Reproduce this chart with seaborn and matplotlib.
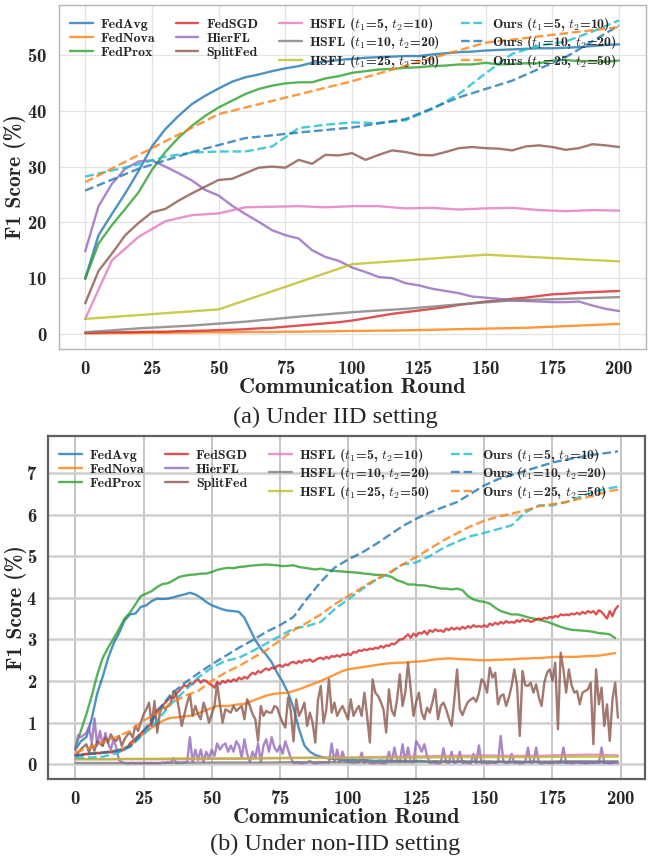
import matplotlib
matplotlib.use("Agg")
import matplotlib.pyplot as plt
import seaborn as sns

# ---------------- (a) IID setting ----------------
iid_x5 = list(range(0, 201, 5))
iid_x10 = list(range(0, 201, 10))
iid_x20 = list(range(0, 201, 20))
iid_x50 = list(range(0, 201, 50))

iid_fedavg = [9.9, 17.7, 21.5, 25.2, 29.2, 33.6, 36.7, 39.1, 41.2, 42.7, 44.0, 45.2, 46.0, 46.5,
              47.1, 47.6, 48.0, 48.6, 48.8, 49.1, 49.3, 49.5, 49.6, 49.7, 49.8, 49.8, 50.1, 50.3,
              50.5, 50.6, 50.8, 50.9, 51.0, 51.1, 51.2, 51.2, 51.3, 51.4, 51.6, 51.8, 51.9]
iid_fednova = [0.1, 0.1, 0.15, 0.15, 0.2, 0.2, 0.2, 0.25, 0.25, 0.3, 0.3, 0.3, 0.35, 0.35, 0.35,
               0.4, 0.4, 0.45, 0.45, 0.5, 0.55, 0.55, 0.6, 0.6, 0.65, 0.7, 0.75, 0.8, 0.85, 0.9,
               0.95, 1.0, 1.05, 1.1, 1.2, 1.3, 1.4, 1.5, 1.6, 1.7, 1.8]
iid_fedprox = [9.9, 16.2, 19.5, 22.4, 25.4, 29.4, 32.6, 35.2, 37.3, 39.1, 40.6, 41.8, 43.0, 43.9,
               44.5, 44.9, 45.1, 45.1, 45.8, 46.2, 46.8, 47.1, 47.4, 47.5, 47.7, 47.8, 48.0, 48.1,
               48.3, 48.3, 48.6, 48.3, 48.4, 48.5, 48.5, 49.0, 49.1, 48.9, 48.9, 48.8, 49.0]
iid_fedsgd = [0.2, 0.25, 0.3, 0.3, 0.35, 0.4, 0.4, 0.5, 0.55, 0.6, 0.7, 0.75, 0.85, 1.0, 1.1, 1.3,
              1.5, 1.7, 1.9, 2.1, 2.4, 2.8, 3.2, 3.6, 3.9, 4.2, 4.5, 4.8, 5.2, 5.5, 5.8, 6.0, 6.3,
              6.5, 6.8, 7.1, 7.2, 7.4, 7.5, 7.6, 7.7]
iid_hierfl = [14.8, 22.9, 26.9, 29.6, 30.9, 31.1, 30.0, 28.8, 27.5, 25.8, 24.8, 23.0, 21.5, 20.1,
              18.6, 17.7, 17.1, 15.0, 13.8, 13.1, 11.9, 11.1, 10.2, 10.0, 9.1, 8.7, 8.1, 7.7, 7.3,
              6.7, 6.5, 6.3, 6.0, 5.9, 5.8, 5.7, 5.7, 5.8, 5.1, 4.5, 4.1]
iid_splitfed = [5.5, 11.3, 14.4, 17.7, 19.9, 21.8, 22.4, 23.9, 25.2, 26.4, 27.6, 27.8, 28.8, 29.8,
                30.0, 29.8, 31.2, 30.5, 32.1, 32.0, 32.4, 31.2, 32.1, 32.9, 32.6, 32.1, 32.0, 32.6,
                33.3, 33.5, 33.3, 33.2, 32.9, 33.6, 33.8, 33.5, 33.0, 33.3, 34.0, 33.8, 33.5]
iid_hsfl_5_10 = [2.7, 13.2, 17.4, 20.2, 21.3, 21.6, 22.7, 22.8, 22.9, 22.7, 22.9, 22.9, 22.5, 22.6,
                 22.3, 22.5, 22.6, 22.2, 22.0, 22.2, 22.1]
iid_hsfl_10_20 = [0.3, 1.0, 1.5, 2.2, 3.1, 3.9, 4.5, 5.3, 6.0, 6.3, 6.6]
iid_hsfl_25_50 = [2.7, 4.4, 12.5, 14.2, 13.0]
iid_ours_5_10 = [28.2, 29.3, 30.4, 31.8, 32.5, 32.7, 32.7, 33.6, 36.9, 37.5, 37.9, 37.8, 38.3, 40.3,
                 43.0, 46.7, 50.2, 51.7, 52.4, 54.2, 56.2]
iid_ours_10_20 = [25.7, 29.6, 32.6, 35.1, 36.1, 37.0, 38.5, 42.4, 45.4, 49.6, 55.3]
iid_ours_25_50 = [27.2, 39.4, 45.3, 52.2, 55.0]

# ---------------- (b) non-IID setting ----------------
niid_x1 = list(range(0, 200))
niid_x2 = list(range(0, 200, 2))
niid_x5 = list(range(0, 200, 5)) + [199]
niid_x10 = list(range(0, 200, 10)) + [199]

niid_fedavg = [0.35, 0.55, 0.65, 1.1, 1.7, 2.1, 2.55, 2.9, 3.15, 3.45,
               3.6, 3.62, 3.78, 3.82, 3.92, 3.98, 3.97, 3.98, 4.01, 4.05,
               4.08, 4.12, 4.08, 4.0, 3.9, 3.82, 3.77, 3.72, 3.69, 3.68,
               3.66, 3.52, 3.25, 2.98, 2.78, 2.63, 2.45, 2.2, 1.98, 1.72,
               1.35, 0.85, 0.45, 0.3, 0.22, 0.18, 0.15, 0.13, 0.12, 0.1,
               0.1, 0.1, 0.09, 0.1, 0.09, 0.08, 0.09, 0.08, 0.08, 0.07,
               0.08, 0.07, 0.07, 0.08, 0.07, 0.06, 0.07, 0.06, 0.07, 0.06,
               0.06, 0.07, 0.06, 0.06, 0.05, 0.06, 0.06, 0.05, 0.06, 0.05,
               0.05, 0.06, 0.05, 0.05, 0.06, 0.05, 0.05, 0.04, 0.05, 0.05,
               0.04, 0.05, 0.05, 0.04, 0.05, 0.04, 0.05, 0.04, 0.04, 0.05]
niid_fednova = [0.2, 0.22, 0.24, 0.25, 0.27, 0.28, 0.3, 0.32, 0.35, 0.4,
                0.44, 0.55, 0.68, 0.78, 0.88, 0.96, 1.04, 1.1, 1.12, 1.13,
                1.15, 1.16, 1.2, 1.25, 1.3, 1.35, 1.4, 1.4, 1.4, 1.42,
                1.44, 1.45, 1.5, 1.55, 1.6, 1.65, 1.68, 1.7, 1.71, 1.72,
                1.76, 1.8, 1.85, 1.9, 1.95, 2.0, 2.06, 2.12, 2.18, 2.24,
                2.28, 2.3, 2.32, 2.34, 2.36, 2.38, 2.4, 2.42, 2.43, 2.44,
                2.44, 2.45, 2.46, 2.47, 2.48, 2.5, 2.52, 2.53, 2.54, 2.54,
                2.53, 2.52, 2.52, 2.51, 2.5, 2.5, 2.5, 2.51, 2.51, 2.52,
                2.52, 2.53, 2.54, 2.54, 2.55, 2.55, 2.56, 2.57, 2.58, 2.58,
                2.58, 2.58, 2.58, 2.59, 2.6, 2.6, 2.61, 2.63, 2.65, 2.67]
niid_fedprox = [0.4, 0.8, 1.2, 1.64, 2.15, 2.55, 2.8, 3.02, 3.25, 3.5,
                3.64, 3.84, 4.04, 4.1, 4.16, 4.26, 4.33, 4.35, 4.42, 4.5,
                4.53, 4.55, 4.56, 4.58, 4.58, 4.62, 4.67, 4.7, 4.72, 4.71,
                4.74, 4.75, 4.77, 4.78, 4.79, 4.8, 4.79, 4.78, 4.76, 4.77,
                4.78, 4.74, 4.72, 4.7, 4.68, 4.7, 4.67, 4.65, 4.64, 4.63,
                4.62, 4.61, 4.6, 4.58, 4.57, 4.55, 4.55, 4.54, 4.5, 4.42,
                4.38, 4.32, 4.32, 4.3, 4.3, 4.27, 4.25, 4.22, 4.22, 4.2,
                4.22, 4.18, 4.04, 3.96, 3.92, 3.9, 3.86, 3.76, 3.68, 3.64,
                3.6, 3.6, 3.57, 3.53, 3.5, 3.47, 3.44, 3.4, 3.35, 3.3,
                3.26, 3.23, 3.22, 3.21, 3.2, 3.18, 3.15, 3.14, 3.12, 3.03]
niid_fedsgd = [0.22, 0.23, 0.22, 0.24, 0.25, 0.24, 0.26, 0.25, 0.27, 0.26,
               0.28, 0.27, 0.29, 0.28, 0.3, 0.31, 0.3, 0.33, 0.35, 0.4,
               0.5, 0.56, 0.62, 0.68, 0.74, 0.8, 0.86, 0.92, 1.0, 1.15,
               1.3, 1.36, 1.42, 1.48, 1.55, 1.62, 1.58, 1.7, 1.76, 1.84,
               1.9, 1.86, 1.95, 1.92, 2.0, 2.04, 1.96, 2.02, 2.0, 1.94,
               1.9, 1.84, 1.98, 1.92, 2.0, 1.96, 2.02, 1.98, 2.04, 2.0,
               2.08, 2.04, 2.1, 2.06, 2.14, 2.2, 2.16, 2.24, 2.2, 2.26,
               2.3, 2.26, 2.32, 2.3, 2.36, 2.38, 2.34, 2.4, 2.38, 2.44,
               2.46, 2.42, 2.48, 2.44, 2.5, 2.48, 2.52, 2.46, 2.5, 2.54,
               2.56, 2.52, 2.58, 2.54, 2.6, 2.58, 2.62, 2.58, 2.64, 2.62,
               2.66, 2.62, 2.7, 2.68, 2.74, 2.72, 2.76, 2.74, 2.78, 2.76,
               2.8, 2.78, 2.84, 2.8, 2.86, 2.84, 2.9, 2.88, 2.94, 3.0,
               3.0, 3.06, 3.12, 3.04, 3.14, 3.08, 3.16, 3.14, 3.2, 3.12,
               3.22, 3.18, 3.24, 3.2, 3.22, 3.18, 3.26, 3.22, 3.28, 3.24,
               3.28, 3.24, 3.3, 3.26, 3.32, 3.28, 3.34, 3.3, 3.32, 3.3,
               3.34, 3.3, 3.38, 3.34, 3.4, 3.36, 3.42, 3.38, 3.44, 3.4,
               3.42, 3.4, 3.46, 3.42, 3.48, 3.44, 3.46, 3.42, 3.44, 3.48,
               3.5, 3.48, 3.52, 3.5, 3.54, 3.52, 3.56, 3.54, 3.6, 3.58,
               3.6, 3.58, 3.62, 3.6, 3.64, 3.6, 3.66, 3.62, 3.68, 3.64,
               3.68, 3.6, 3.7, 3.66, 3.58, 3.5, 3.68, 3.56, 3.72, 3.8]
niid_hierfl = [0.35, 0.7, 0.65, 0.7, 0.75, 0.9, 0.5, 1.1, 0.45, 0.8,
               0.45, 0.75, 0.5, 0.35, 0.6, 0.4, 0.1, 0.05, 0.03, 0.02,
               0.02, 0.03, 0.02, 0.03, 0.02, 0.02, 0.03, 0.02, 0.03, 0.02,
               0.03, 0.02, 0.04, 0.03, 0.05, 0.03, 0.15, 0.03, 0.04, 0.03,
               0.04, 0.05, 0.65, 0.05, 0.35, 0.1, 0.35, 0.05, 0.3, 0.15,
               0.35, 0.2, 0.5, 0.35, 0.45, 0.5, 0.3, 0.45, 0.3, 0.55,
               0.45, 0.15, 0.6, 0.25, 0.05, 0.3, 0.15, 0.5, 0.05, 0.45,
               0.6, 0.3, 0.65, 0.4, 0.3, 0.45, 0.25, 0.55, 0.35, 0.15,
               0.03, 0.04, 0.03, 0.02, 0.03, 0.04, 0.08, 0.03, 0.02, 0.03,
               0.04, 0.03, 0.05, 0.03, 0.5, 0.05, 0.35, 0.05, 0.3, 0.08,
               0.05, 0.05, 0.03, 0.05, 0.04, 0.28, 0.03, 0.08, 0.03, 0.02,
               0.03, 0.04, 0.03, 0.02, 0.03, 0.3, 0.05, 0.4, 0.1, 0.05,
               0.48, 0.05, 0.4, 0.05, 0.05, 0.55, 0.45, 0.3, 0.48, 0.2,
               0.03, 0.04, 0.03, 0.02, 0.03, 0.38, 0.05, 0.03, 0.3, 0.03,
               0.05, 0.3, 0.03, 0.04, 0.03, 0.02, 0.25, 0.03, 0.45, 0.03,
               0.04, 0.02, 0.03, 0.04, 0.03, 0.05, 0.68, 0.05, 0.03, 0.04,
               0.25, 0.03, 0.04, 0.02, 0.03, 0.05, 0.4, 0.03, 0.04, 0.4,
               0.03, 0.02, 0.03, 0.04, 0.03, 0.02, 0.05, 0.03, 0.04, 0.4,
               0.03, 0.04, 0.02, 0.03, 0.05, 0.03, 0.04, 0.02, 0.03, 0.04,
               0.03, 0.05, 0.03, 0.4, 0.03, 0.04, 0.02, 0.03, 0.04, 0.03]
niid_splitfed = [0.2, 0.28, 0.36, 0.42, 0.48, 0.28, 0.48, 0.32, 0.56, 0.5,
                 0.44, 0.64, 0.52, 0.72, 0.6, 0.56, 0.68, 0.44, 0.6, 0.7,
                 0.76, 0.64, 0.92, 0.8, 1.0, 1.2, 1.32, 1.48, 0.92, 1.52,
                 0.76, 1.24, 1.4, 1.32, 1.4, 1.48, 1.76, 1.68, 1.32, 0.92,
                 1.2, 1.48, 1.68, 1.16, 1.4, 1.2, 1.08, 1.48, 1.28, 1.0,
                 1.2, 1.4, 1.95, 1.44, 1.0, 1.32, 1.28, 1.24, 1.4, 1.28,
                 1.34, 1.4, 1.08, 1.56, 1.4, 1.2, 1.08, 0.56, 1.4, 1.16,
                 1.28, 1.24, 1.24, 1.4, 1.36, 1.16, 1.0, 0.88, 1.6, 1.28,
                 0.55, 1.56, 1.16, 1.3, 1.48, 0.92, 1.24, 1.0, 0.52, 1.56,
                 1.88, 1.0, 1.3, 2.04, 1.24, 1.48, 1.16, 1.3, 1.4, 1.24,
                 1.08, 1.56, 1.16, 1.3, 1.4, 1.16, 1.72, 1.16, 0.52, 2.04,
                 1.72, 1.64, 1.5, 1.32, 0.76, 1.8, 1.3, 1.16, 1.56, 2.16,
                 1.4, 1.72, 2.44, 1.8, 1.16, 1.5, 1.72, 1.24, 1.08, 1.36,
                 1.24, 1.5, 1.8, 1.08, 1.4, 1.48, 1.32, 1.1, 0.92, 1.56,
                 2.28, 1.32, 1.18, 1.36, 1.5, 1.55, 1.6, 1.5, 1.7, 2.04,
                 1.96, 1.72, 2.32, 2.08, 2.2, 1.44, 1.64, 1.68, 1.4, 1.6,
                 1.88, 2.28, 1.88, 0.68, 2.24, 1.9, 1.88, 1.96, 1.72, 1.92,
                 1.6, 1.4, 1.96, 2.2, 2.28, 2.0, 2.44, 0.84, 2.68, 2.28,
                 1.72, 2.28, 1.9, 1.72, 1.76, 1.44, 1.72, 1.76, 1.8, 1.96,
                 0.48, 2.28, 1.44, 1.84, 0.92, 1.44, 0.56, 1.56, 1.96, 1.12]
niid_hsfl_5_10 = [0.12, 0.12, 0.12, 0.12, 0.12, 0.13, 0.13, 0.14, 0.15, 0.16, 0.16,
                  0.17, 0.18, 0.19, 0.2, 0.21, 0.2, 0.2, 0.22, 0.23, 0.21]
niid_hsfl_10_20 = [0.03, 0.03, 0.03, 0.03, 0.04, 0.04, 0.04, 0.04, 0.05, 0.05, 0.05,
                   0.05, 0.05, 0.06, 0.06, 0.06, 0.06, 0.06, 0.07, 0.07, 0.07]
niid_hsfl_25_50 = [0.12, 0.12, 0.13, 0.13, 0.14, 0.14, 0.14, 0.15, 0.15, 0.15, 0.15,
                   0.16, 0.16, 0.16, 0.17, 0.17, 0.17, 0.17, 0.18, 0.18, 0.18]
niid_ours_5_10 = [0.16, 0.16, 0.18, 0.26, 0.42, 0.72, 1.05, 1.44, 1.76, 2.08, 2.32, 2.48, 2.56,
                  2.72, 2.9, 3.08, 3.26, 3.32, 3.42, 3.72, 3.96, 4.2, 4.42, 4.58, 4.8, 4.85,
                  5.0, 5.2, 5.35, 5.48, 5.56, 5.65, 5.74, 6.05, 6.22, 6.22, 6.3, 6.42, 6.55,
                  6.62, 6.67]
niid_ours_10_20 = [0.2, 0.25, 0.28, 0.32, 0.42, 0.8, 1.25, 1.68, 1.95, 2.18, 2.4, 2.6, 2.8,
                   2.98, 3.18, 3.34, 3.54, 3.98, 4.38, 4.72, 4.92, 5.08, 5.28, 5.5, 5.72, 5.9,
                   6.05, 6.18, 6.3, 6.5, 6.7, 6.85, 6.95, 7.05, 7.15, 7.25, 7.32, 7.38, 7.44,
                   7.48, 7.52]
niid_ours_25_50 = [0.28, 0.4, 0.52, 0.65, 0.8, 1.05, 1.22, 1.46, 1.64, 1.76, 2.0, 2.2, 2.36,
                   2.55, 2.74, 2.97, 3.22, 3.4, 3.6, 3.84, 4.04, 4.24, 4.44, 4.6, 4.8, 4.98,
                   5.18, 5.38, 5.55, 5.72, 5.85, 5.95, 6.02, 6.1, 6.2, 6.25, 6.3, 6.38, 6.45,
                   6.55, 6.6]

labels = ["FedAvg", "FedNova", "FedProx", "FedSGD", "HierFL", "SplitFed",
          r"HSFL ($t_1$=5, $t_2$=10)", r"HSFL ($t_1$=10, $t_2$=20)", r"HSFL ($t_1$=25, $t_2$=50)",
          r"Ours ($t_1$=5, $t_2$=10)", r"Ours ($t_1$=10, $t_2$=20)", r"Ours ($t_1$=25, $t_2$=50)"]
colors = ["tab:blue", "tab:orange", "tab:green", "tab:red", "tab:purple", "tab:brown",
          "tab:pink", "tab:gray", "tab:olive", "tab:cyan", "tab:blue", "tab:orange"]
styles = ["-"] * 9 + ["--"] * 3

iid_series = [(iid_x5, iid_fedavg), (iid_x5, iid_fednova), (iid_x5, iid_fedprox),
              (iid_x5, iid_fedsgd), (iid_x5, iid_hierfl), (iid_x5, iid_splitfed),
              (iid_x10, iid_hsfl_5_10), (iid_x20, iid_hsfl_10_20), (iid_x50, iid_hsfl_25_50),
              (iid_x10, iid_ours_5_10), (iid_x20, iid_ours_10_20), (iid_x50, iid_ours_25_50)]
niid_series = [(niid_x2, niid_fedavg), (niid_x2, niid_fednova), (niid_x2, niid_fedprox),
               (niid_x1, niid_fedsgd), (niid_x1, niid_hierfl), (niid_x1, niid_splitfed),
               (niid_x10, niid_hsfl_5_10), (niid_x10, niid_hsfl_10_20), (niid_x10, niid_hsfl_25_50),
               (niid_x5, niid_ours_5_10), (niid_x5, niid_ours_10_20), (niid_x5, niid_ours_25_50)]

sns.set_theme(style="whitegrid")
plt.rcParams["font.family"] = ["cmb10", "DejaVu Serif"]
plt.rcParams["mathtext.fontset"] = "cm"
plt.rcParams["axes.unicode_minus"] = False
plt.rcParams["axes.formatter.use_mathtext"] = True

fig = plt.figure(figsize=(6.65, 8.58), dpi=100)
ax_a = fig.add_axes([0.088, 0.5932, 0.883, 0.4013])
ax_b = fig.add_axes([0.0726, 0.0921, 0.8974, 0.4001])


def draw_panel(ax, series, yticks):
    for (x, y), lab, col, ls in zip(series, labels, colors, styles):
        sns.lineplot(x=x, y=y, ax=ax, color=col, linestyle=ls, linewidth=1.7,
                     alpha=0.8, label=lab)
    ax.set_xticks(range(0, 201, 25))
    ax.set_yticks(yticks)
    ax.tick_params(axis="both", labelsize=13.5, pad=2)
    ax.set_xlabel("Communication Round", fontsize=16, labelpad=0)
    ax.set_ylabel("F1 Score (%)", fontsize=15.5)
    ax.legend(loc="upper left", ncol=4, frameon=False, fontsize=10, handlelength=1.65,
              handletextpad=0.55, columnspacing=1.5, labelspacing=0.1, borderaxespad=0.4)


draw_panel(ax_a, iid_series, range(0, 51, 10))
draw_panel(ax_b, niid_series, range(0, 8))

# panel (a): light grid and frame
ax_a.grid(color="#e3e3e3", linewidth=0.9)
for sp in ax_a.spines.values():
    sp.set_color("#b5b5b5")
    sp.set_linewidth(1.0)
ax_a.yaxis.set_label_coords(-0.055, 0.5)

# panel (b): darker grid and frame
ax_b.grid(False)
ax_b.xaxis.grid(True, color="#b5b5b5", linewidth=1.1)
ax_b.yaxis.grid(True, color="#cfcfcf", linewidth=1.8)
for sp in ax_b.spines.values():
    sp.set_color("#606060")
    sp.set_linewidth(1.6)
ax_b.yaxis.set_label_coords(-0.036, 0.5)

fig.text(0.504, 0.5073, "(a) Under IID setting", family="Liberation Serif", fontsize=17.5,
         ha="center", va="baseline")
fig.text(0.504, 0.0093, "(b) Under non-IID setting", family="Liberation Serif", fontsize=17.5,
         ha="center", va="baseline")

fig.savefig("out.png", dpi=100)
